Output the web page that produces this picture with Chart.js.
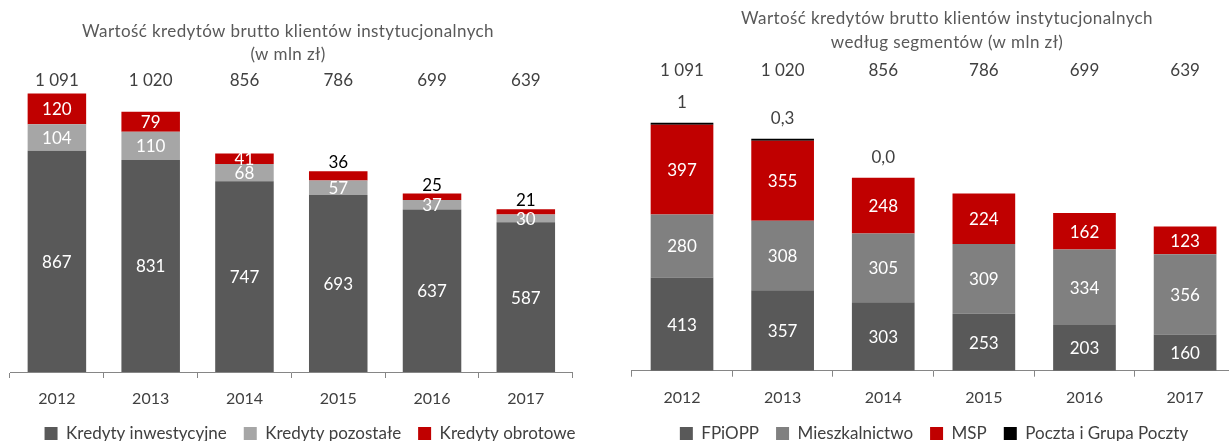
<!DOCTYPE html>
<html lang="pl">
<head>
<meta charset="utf-8">
<title>Wartość kredytów brutto klientów instytucjonalnych</title>
<script src="https://cdn.jsdelivr.net/npm/chart.js@4.4.1/dist/chart.umd.min.js"></script>
<style>
    html, body { margin: 0; padding: 0; background: #fff; width: 1229px; height: 441px; overflow: hidden; }
    .box { position: absolute; top: 0; height: 452px; }
    #left { left: 0; width: 620px; }
    #right { left: 620px; width: 628px; }
</style>
</head>
<body>
<div class="box" id="left"><canvas id="chartLeft"></canvas></div>
<div class="box" id="right"><canvas id="chartRight"></canvas></div>
<script>
var years = ['2012', '2013', '2014', '2015', '2016', '2017'];
var totals = [1091, 1020, 856, 786, 699, 639];

// lewy wykres - rodzaje kredytów
var inwestycyjne = [867, 831, 747, 693, 637, 587];
var pozostale = [104, 110, 68, 57, 37, 30];
var obrotowe = [120, 79, 41, 36, 25, 21];

// prawy wykres - segmenty
var fpiopp = [413, 357, 303, 253, 203, 160];
var mieszkalnictwo = [280, 308, 305, 309, 334, 356];
var msp = [397, 355, 248, 224, 162, 123];
var poczta = [1, 0.3, 0.0, null, null, null];

Chart.defaults.font.family = 'Lato';

function fmtValue(v) {
    if (Number.isInteger(v) && v !== 0) return String(v);
    return v.toFixed(1).replace('.', ',');
}

function fmtTotal(v) {
    return String(v).replace(/\B(?=(\d{3})+(?!\d))/g, ' ');
}

var labelsPlugin = {
    id: 'labels',
    afterDatasetsDraw: function (chart, args, opts) {
        var ctx = chart.ctx;
        var xs = chart.scales.x;
        ctx.save();
        ctx.textAlign = 'center';
        ctx.textBaseline = 'middle';

        // tytuł
        ctx.font = '17px Lato';
        ctx.fillStyle = '#595959';
        ctx.letterSpacing = '0.4px';
        opts.title.forEach(function (line, i) {
            ctx.fillText(line, opts.titleX, opts.titleY + i * opts.titleGap);
        });
        ctx.letterSpacing = '0px';

        // sumy nad słupkami
        ctx.font = '17px Lato';
        ctx.fillStyle = '#404040';
        totals.forEach(function (t, i) {
            ctx.fillText(fmtTotal(t), xs.getPixelForValue(i), opts.totalsY);
        });

        chart.data.datasets.forEach(function (ds, di) {
            var meta = chart.getDatasetMeta(di);
            if (ds.labelValues) {
                // etykiety nad słupkiem
                ds.labelValues.forEach(function (v, i) {
                    if (v === null) return;
                    var top = Infinity;
                    chart.data.datasets.forEach(function (d2, j) {
                        var el = chart.getDatasetMeta(j).data[i];
                        if (el && d2.data[i] !== null) top = Math.min(top, el.y);
                    });
                    ctx.fillStyle = '#404040';
                    ctx.textBaseline = 'middle';
                    ctx.fillText(fmtValue(v), xs.getPixelForValue(i), top - opts.aboveGap);
                });
                return;
            }
            meta.data.forEach(function (bar, i) {
                var v = ds.data[i];
                if (v === null) return;
                var h = bar.base - bar.y;
                if (ds.autoOutside && h < 10) {
                    ctx.fillStyle = '#000000';
                    ctx.textBaseline = 'alphabetic';
                    ctx.fillText(fmtValue(v), bar.x, bar.y - 3);
                } else {
                    ctx.fillStyle = '#ffffff';
                    ctx.textBaseline = 'middle';
                    ctx.fillText(fmtValue(v), bar.x, (bar.y + bar.base) / 2 + 1);
                }
            });
        });
        ctx.restore();
    }
};

function makeChart(id, datasets, cfg) {
    var ctx = document.getElementById(id).getContext('2d');
    return new Chart(ctx, {
        type: 'bar',
        data: { labels: years, datasets: datasets },
        options: {
            responsive: true,
            maintainAspectRatio: false,
            animation: false,
            layout: { padding: { top: 20, left: 0, right: 0, bottom: 0 } },
            datasets: { bar: { barPercentage: cfg.barPct, categoryPercentage: 1, borderWidth: 0 } },
            scales: {
                x: {
                    stacked: true,
                    grid: { display: true, drawOnChartArea: false, drawTicks: true, tickLength: 6, offset: true, color: '#868686' },
                    border: { display: true, color: '#868686', width: 1 },
                    ticks: { color: '#404040', font: { size: 16 }, padding: cfg.tickPad },
                    afterFit: function (s) {
                        s.height = s.chart.height - cfg.bottom - s.chart.legend.height;
                    }
                },
                y: {
                    stacked: true,
                    min: 0,
                    max: cfg.yMax,
                    ticks: { display: false },
                    grid: { display: false },
                    border: { display: false },
                    afterFit: function (s) { s.width = cfg.leftW; }
                },
                y2: {
                    type: 'linear',
                    position: 'right',
                    min: 0,
                    max: 1,
                    ticks: { display: false },
                    grid: { display: false },
                    border: { display: false },
                    afterFit: function (s) { s.width = cfg.rightW; }
                }
            },
            plugins: {
                tooltip: { enabled: false },
                legend: {
                    position: 'bottom',
                    labels: { boxWidth: 13, boxHeight: 13, padding: 17, color: '#404040', font: { size: 17 } }
                },
                labels: cfg.labels
            }
        },
        plugins: [labelsPlugin]
    });
}

makeChart('chartLeft', [
    { label: 'Kredyty inwestycyjne', data: inwestycyjne, backgroundColor: '#595959' },
    { label: 'Kredyty pozostałe', data: pozostale, backgroundColor: '#A6A6A6' },
    { label: 'Kredyty obrotowe', data: obrotowe, backgroundColor: '#C00000', autoOutside: true }
], {
    barPct: 0.624, tickPad: 11, bottom: 372, yMax: 1379, leftW: 10, rightW: 47.3,
    labels: {
        title: ['Wartość kredytów brutto klientów instytucjonalnych', '(w mln zł)'],
        titleX: 288, titleY: 31.7, titleGap: 23.3, totalsY: 80.7, aboveGap: 20
    }
});

makeChart('chartRight', [
    { label: 'FPiOPP', data: fpiopp, backgroundColor: '#595959' },
    { label: 'Mieszkalnictwo', data: mieszkalnictwo, backgroundColor: '#808080' },
    { label: 'MSP', data: msp, backgroundColor: '#C00000' },
    { label: 'Poczta i Grupa Poczty', data: poczta.map(function (v) { return v ? v : null; }),
      backgroundColor: '#000000', minBarLength: 2, labelValues: poczta }
], {
    barPct: 0.623, tickPad: 12, bottom: 370.7, yMax: 1555, leftW: 11.7, rightW: 12.6,
    labels: {
        title: ['Wartość kredytów brutto klientów instytucjonalnych', 'według segmentów (w mln zł)'],
        titleX: 327, titleY: 19, titleGap: 24, totalsY: 70.7, aboveGap: 20
    }
});
</script>
</body>
</html>
